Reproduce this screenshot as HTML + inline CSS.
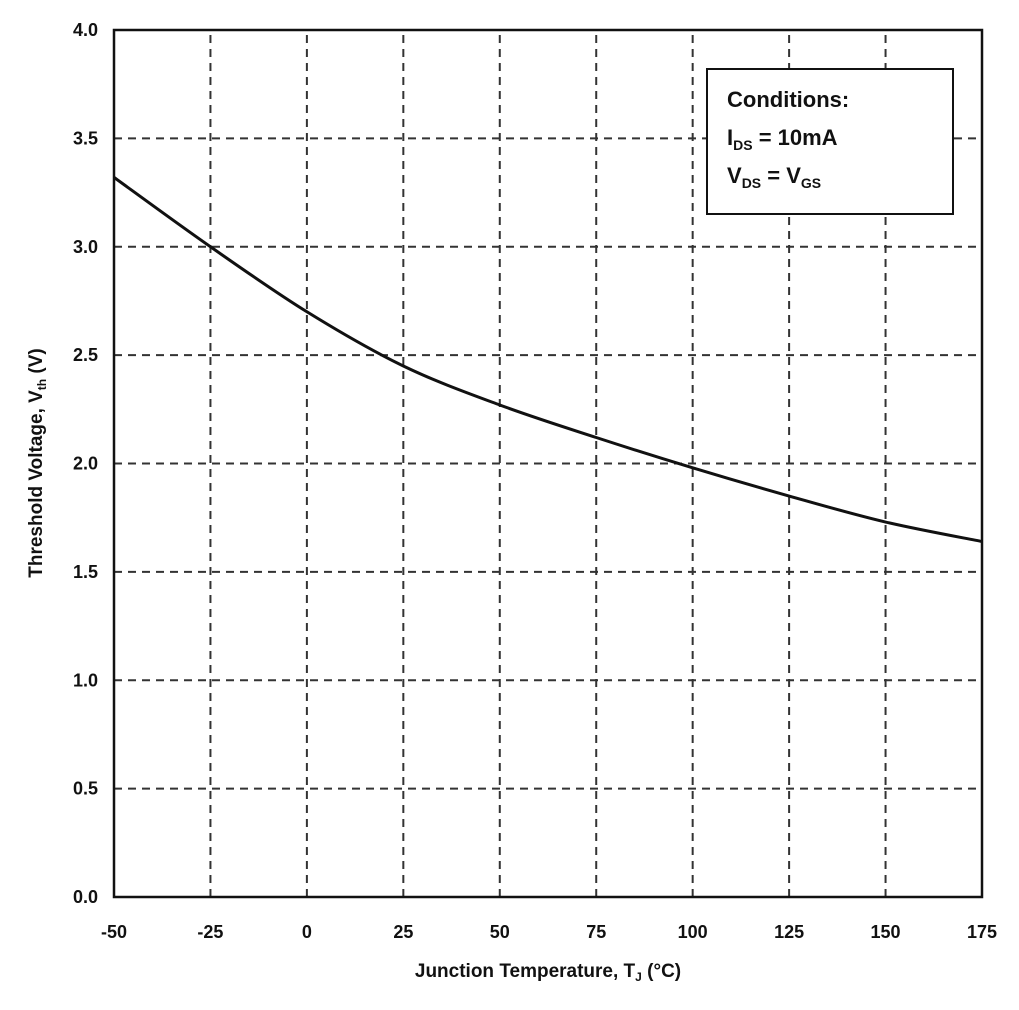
<!DOCTYPE html>
<html><head><meta charset="utf-8"><style>
body{margin:0;background:#fff;}
svg text{font-family:"Liberation Sans",sans-serif;font-weight:bold;fill:#111;}
</style></head><body>
<svg id="chart" width="1019" height="1005" viewBox="0 0 1019 1005" xmlns="http://www.w3.org/2000/svg">
<g id="grid"></g>
<g id="ticks"></g>
<path id="curve" fill="none" stroke="#111" stroke-width="3"/>
<rect x="114" y="30" width="868" height="867" fill="none" stroke="#111" stroke-width="2.5"/>
<g>
<rect x="707" y="69" width="246" height="145" fill="#fff" stroke="#111" stroke-width="2"/>
<text x="727" y="107" font-size="22">Conditions:</text>
<text x="727" y="145" font-size="22">I<tspan font-size="14" dy="5">DS</tspan><tspan dy="-5"> = 10mA</tspan></text>
<text x="727" y="183" font-size="22">V<tspan font-size="14" dy="5">DS</tspan><tspan dy="-5"> = V</tspan><tspan font-size="14" dy="5">GS</tspan></text>
</g>
<text x="548" y="977" font-size="19" text-anchor="middle">Junction Temperature, T<tspan font-size="12" dy="4">J</tspan><tspan dy="-4"> (°C)</tspan></text>
<text transform="translate(42,463) rotate(-90)" font-size="19" text-anchor="middle">Threshold Voltage, V<tspan font-size="12" dy="4">th</tspan><tspan dy="-4"> (V)</tspan></text>
</svg>
<script>
const temps=[-50,-25,0,25,50,75,100,125,150,175];
const vth=[3.32,3.0,2.70,2.45,2.27,2.12,1.98,1.85,1.73,1.64];
const xTicks=[-50,-25,0,25,50,75,100,125,150,175];
const yTicks=[0,0.5,1.0,1.5,2.0,2.5,3.0,3.5,4.0];
const X0=114,X1=982,Y0=897,Y1=30;
const xs=v=>X0+(v+50)/225*(X1-X0);
const ys=v=>Y0-v/4*(Y0-Y1);
const NS="http://www.w3.org/2000/svg";
const grid=document.getElementById('grid'),ticks=document.getElementById('ticks');
function mk(t,a){const e=document.createElementNS(NS,t);for(const k in a)e.setAttribute(k,a[k]);return e;}
xTicks.forEach(v=>{
 const l=mk('line',{x1:xs(v),x2:xs(v),y1:Y0,y2:Y1,stroke:'#333','stroke-width':2,'stroke-dasharray':'8,6'});
 
 
 grid.appendChild(l);
 const t=mk('text',{x:xs(v),y:Y0+41,'font-size':18,'text-anchor':'middle'});
 t.textContent=v;
 
 
 ticks.appendChild(t);
});
yTicks.forEach(v=>{
 const l=mk('line',{x1:X0,x2:X1,y1:ys(v),y2:ys(v),stroke:'#333','stroke-width':2,'stroke-dasharray':'8,6'});
 
 
 grid.appendChild(l);
 const t=mk('text',{x:X0-16,y:ys(v)+6,'font-size':18,'text-anchor':'end'});
 t.textContent=v.toFixed(1);
 
 
 ticks.appendChild(t);
});
const p=temps.map((t,i)=>[xs(t),ys(vth[i])]);
let d='M'+p[0][0]+','+p[0][1];
for(let i=0;i<p.length-1;i++){
 const p0=p[Math.max(i-1,0)],p1=p[i],p2=p[i+1],p3=p[Math.min(i+2,p.length-1)];
 d+=' C'+(p1[0]+(p2[0]-p0[0])/6)+','+(p1[1]+(p2[1]-p0[1])/6)+' '+(p2[0]-(p3[0]-p1[0])/6)+','+(p2[1]-(p3[1]-p1[1])/6)+' '+p2[0]+','+p2[1];
}
document.getElementById('curve').setAttribute('d',d);
</script>
</body></html>
